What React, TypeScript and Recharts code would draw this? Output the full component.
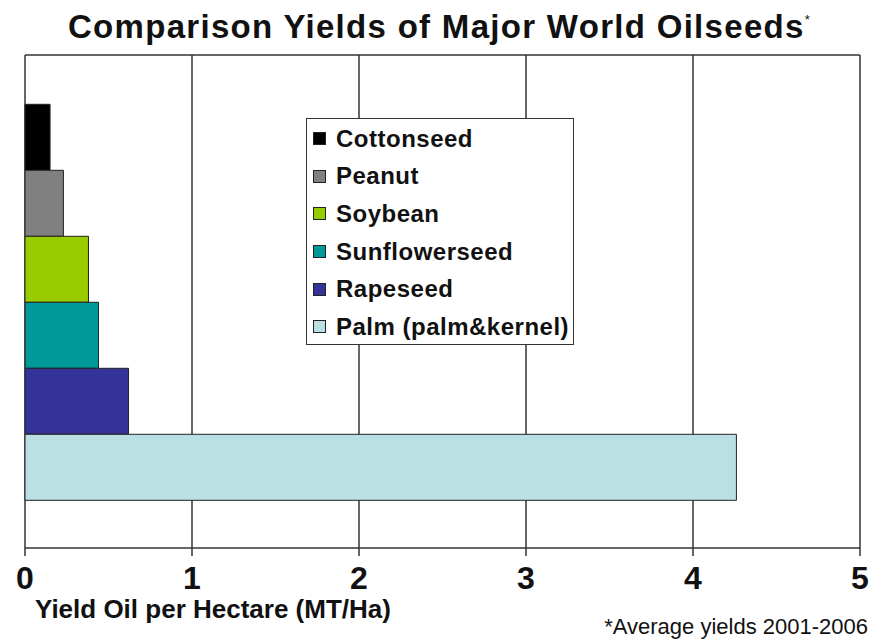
import React from 'react';
import { BarChart, Bar, XAxis, YAxis, CartesianGrid, Legend } from 'recharts';

const seriesNames = ['Cottonseed', 'Peanut', 'Soybean', 'Sunflowerseed', 'Rapeseed', 'Palm (palm&kernel)'];
const seriesValues = [0.15, 0.23, 0.38, 0.44, 0.62, 4.26];
const seriesColors = ['#000000', '#808080', '#99CC00', '#009999', '#333399', '#BBE0E3'];
const xTicks = [0, 1, 2, 3, 4, 5];
const titleText = 'Comparison Yields of Major World Oilseeds';
const axisLabel = 'Yield Oil per Hectare (MT/Ha)';
const footnote = '*Average yields 2001-2006';

const row: Record<string, any> = { group: 'All' };
seriesNames.forEach((n, i) => { row['s' + i] = seriesValues[i]; });
const data = [row];

const FONT = '"Liberation Sans", Arial, sans-serif';

const LegendBox = (props: any) => {
  const payload = [...(props.payload || [])].sort(
    (a: any, b: any) => seriesNames.indexOf(a.value) - seriesNames.indexOf(b.value)
  );
  return (
    <div style={{ border: '1.5px solid #333', background: '#fff', width: 268, height: 227, boxSizing: 'border-box', paddingTop: 1, fontFamily: FONT }}>
      {payload.map((p: any, i: number) => (
        <div key={i} style={{ height: 37.6, display: 'flex', alignItems: 'center', paddingLeft: 6 }}>
          <div style={{ width: 11, height: 11, background: p.color, border: '1px solid #222', marginRight: 10 }} />
          <span style={{ fontWeight: 'bold', fontSize: 24, letterSpacing: 0.5, color: '#111', whiteSpace: 'nowrap' }}>{p.value}</span>
        </div>
      ))}
    </div>
  );
};

export default function App() {
  return (
    <div style={{ position: 'absolute', left: 0, top: 0, width: 871, height: 639, background: '#fff', fontFamily: FONT }}>
      <div style={{ position: 'absolute', left: 4, width: 871, top: 8, textAlign: 'center', fontSize: 33, fontWeight: 'bold', letterSpacing: 1.3, color: '#111', whiteSpace: 'nowrap' }}>
        {titleText}<sup style={{ fontSize: 13, fontWeight: 'normal', verticalAlign: 'top', position: 'relative', top: 4 }}>*</sup>
      </div>
      <BarChart
        width={871}
        height={639}
        data={data}
        layout="vertical"
        margin={{ top: 55, right: 11, bottom: 31, left: 25 }}
        barCategoryGap="10%"
        barGap={0}
      >
        <CartesianGrid
          stroke="#333"
          strokeWidth={1.5}
          strokeDasharray=""
          horizontalCoordinatesGenerator={(args: any) => [args.offset.top]}
        />
        <XAxis
          type="number"
          domain={[0, 5]}
          ticks={xTicks}
          height={60}
          tickSize={8}
          tickMargin={10}
          axisLine={{ stroke: '#333', strokeWidth: 1.5 }}
          tickLine={{ stroke: '#333', strokeWidth: 1.5 }}
          tick={{ fill: '#111', fontSize: 32, fontWeight: 'bold', fontFamily: FONT }}
          interval={0}
        />
        <YAxis
          type="category"
          dataKey="group"
          width={0}
          tick={false}
          tickLine={false}
          axisLine={{ stroke: '#333', strokeWidth: 1.5 }}
        />
        <Legend
          layout="vertical"
          align="center"
          verticalAlign="middle"
          content={<LegendBox />}
          wrapperStyle={{ left: 306, top: 118, width: 268, height: 227 }}
        />
        {seriesNames.map((n, i) => (
          <Bar
            key={n}
            dataKey={'s' + i}
            name={n}
            fill={seriesColors[i]}
            stroke="#222"
            strokeWidth={1}
            isAnimationActive={false}
          />
        ))}
      </BarChart>
      <div style={{ position: 'absolute', left: 35, top: 594, fontSize: 26, fontWeight: 'bold', color: '#111', whiteSpace: 'nowrap' }}>
        {axisLabel}
      </div>
      <div style={{ position: 'absolute', right: 3, top: 614, fontSize: 22, color: '#111', whiteSpace: 'nowrap' }}>
        {footnote}
      </div>
    </div>
  );
}
